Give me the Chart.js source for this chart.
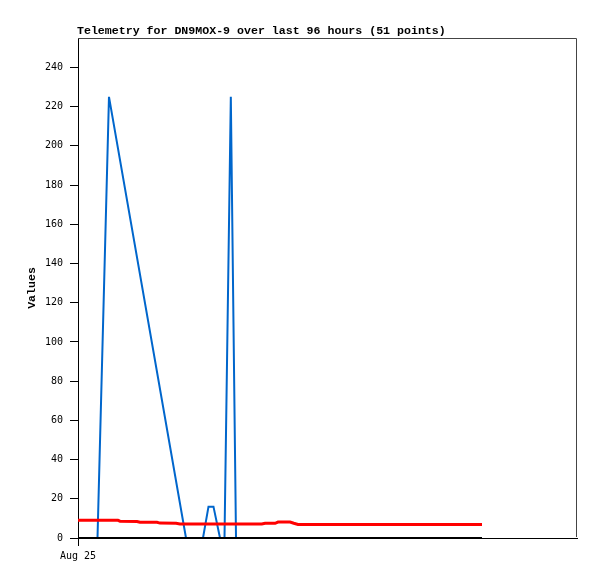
<!DOCTYPE html>
<html>
<head>
<meta charset="utf-8">
<script src="https://cdn.jsdelivr.net/npm/chart.js@4/dist/chart.umd.min.js"></script>
<style>
  html, body { margin: 0; padding: 0; background: #fff; }
  #wrap { width: 597px; height: 579px; }
</style>
</head>
<body>
<div id="wrap"><canvas id="chartTelemetry" width="597" height="579"></canvas></div>
<script>
// hours since Aug 25 00:00
const blueHours  = [0, 4.69, 7.45, 25.97, 30.06, 31.38, 32.58, 34.15, 35.23, 36.75, 38.0, 97.15];
const blueValues = [0, 0, 225, 0, 0, 16, 16, 0, 0, 225, 0, 0];

const redHours  = [0, 9.62, 10.1, 14.19, 14.9, 19.0, 19.7, 23.6, 24.5, 44.2, 45.0, 47.4, 48.1, 51.0, 51.9, 52.9, 97.15];
const redValues = [9.0, 9.0, 8.6, 8.4, 8.0, 8.0, 7.6, 7.5, 7.1, 7.1, 7.5, 7.5, 8.1, 8.1, 7.5, 6.9, 6.9];

const blackHours  = [0, 97.15];
const blackValues = [0, 0];

const yTicks = [0, 20, 40, 60, 80, 100, 120, 140, 160, 180, 200, 220, 240];
const xTickLabels = ['Aug 25'];

const chartTitle = 'Telemetry for DN9MOX-9 over last 96 hours (51 points)';

const toPoints = (xs, ys) => xs.map((x, i) => ({ x: x, y: ys[i] }));

// title + frame drawn by hand so they line up with the plot box
const framePlugin = {
    id: 'frame',
    afterDraw(chart) {
        let ctx = chart.ctx;
        let a = chart.chartArea;
        ctx.save();
        ctx.strokeStyle = '#444';
        ctx.lineWidth = 1;
        ctx.beginPath();
        ctx.moveTo(a.left, a.top + 0.5);
        ctx.lineTo(a.right - 0.5, a.top + 0.5);
        ctx.lineTo(a.right - 0.5, a.bottom - 1);
        ctx.stroke();
        ctx.fillStyle = '#000';
        ctx.font = 'bold 11.6px "Liberation Mono", "DejaVu Sans Mono", monospace';
        ctx.textBaseline = 'alphabetic';
        ctx.textAlign = 'left';
        ctx.fillText(chartTitle, 77, 34);
        ctx.restore();
    }
};

let ctxTelemetry = document.getElementById('chartTelemetry').getContext('2d');

let chartTelemetry = new Chart(ctxTelemetry, {
    type: 'line',
    data: {
        datasets: [
            { data: toPoints(blackHours, blackValues), borderColor: '#000000', borderWidth: 2 },
            { data: toPoints(redHours, redValues), borderColor: '#FF0000', borderWidth: 3 },
            { data: toPoints(blueHours, blueValues), borderColor: '#0066CC', borderWidth: 2 }
        ]
    },
    options: {
        responsive: false,
        animation: false,
        layout: { padding: { top: 38, right: 20, left: 0, bottom: 0 } },
        elements: {
            point: { radius: 0 },
            line: { tension: 0, fill: false }
        },
        plugins: {
            legend: { display: false },
            title: { display: false },
            tooltip: { enabled: false }
        },
        scales: {
            x: {
                type: 'linear',
                min: 0,
                max: 120,
                afterBuildTicks: (scale) => { scale.ticks = [{ value: 0 }]; },
                afterFit: (scale) => { scale.height = 41; },
                ticks: {
                    callback: (v, i) => xTickLabels[i],
                    color: '#000',
                    font: { family: '"DejaVu Sans Mono", monospace', size: 10 },
                    padding: 4,
                    maxRotation: 0
                },
                grid: { drawOnChartArea: false, tickLength: 8, color: '#000' },
                border: { color: '#000', width: 1 }
            },
            y: {
                min: 0,
                max: 255,
                afterBuildTicks: (scale) => { scale.ticks = yTicks.map(v => ({ value: v })); },
                afterFit: (scale) => { scale.width = 78; },
                ticks: {
                    color: '#000',
                    font: { family: '"DejaVu Sans Mono", monospace', size: 10 },
                    padding: 7
                },
                grid: { drawOnChartArea: false, tickLength: 8, color: '#000' },
                border: { color: '#000', width: 1 },
                title: {
                    display: true,
                    text: 'Values',
                    color: '#000',
                    font: { family: '"Liberation Mono", "DejaVu Sans Mono", monospace', size: 11.6, weight: 'bold' },
                    padding: { top: 25, bottom: 0 }
                }
            }
        }
    },
    plugins: [framePlugin]
});
</script>
</body>
</html>
